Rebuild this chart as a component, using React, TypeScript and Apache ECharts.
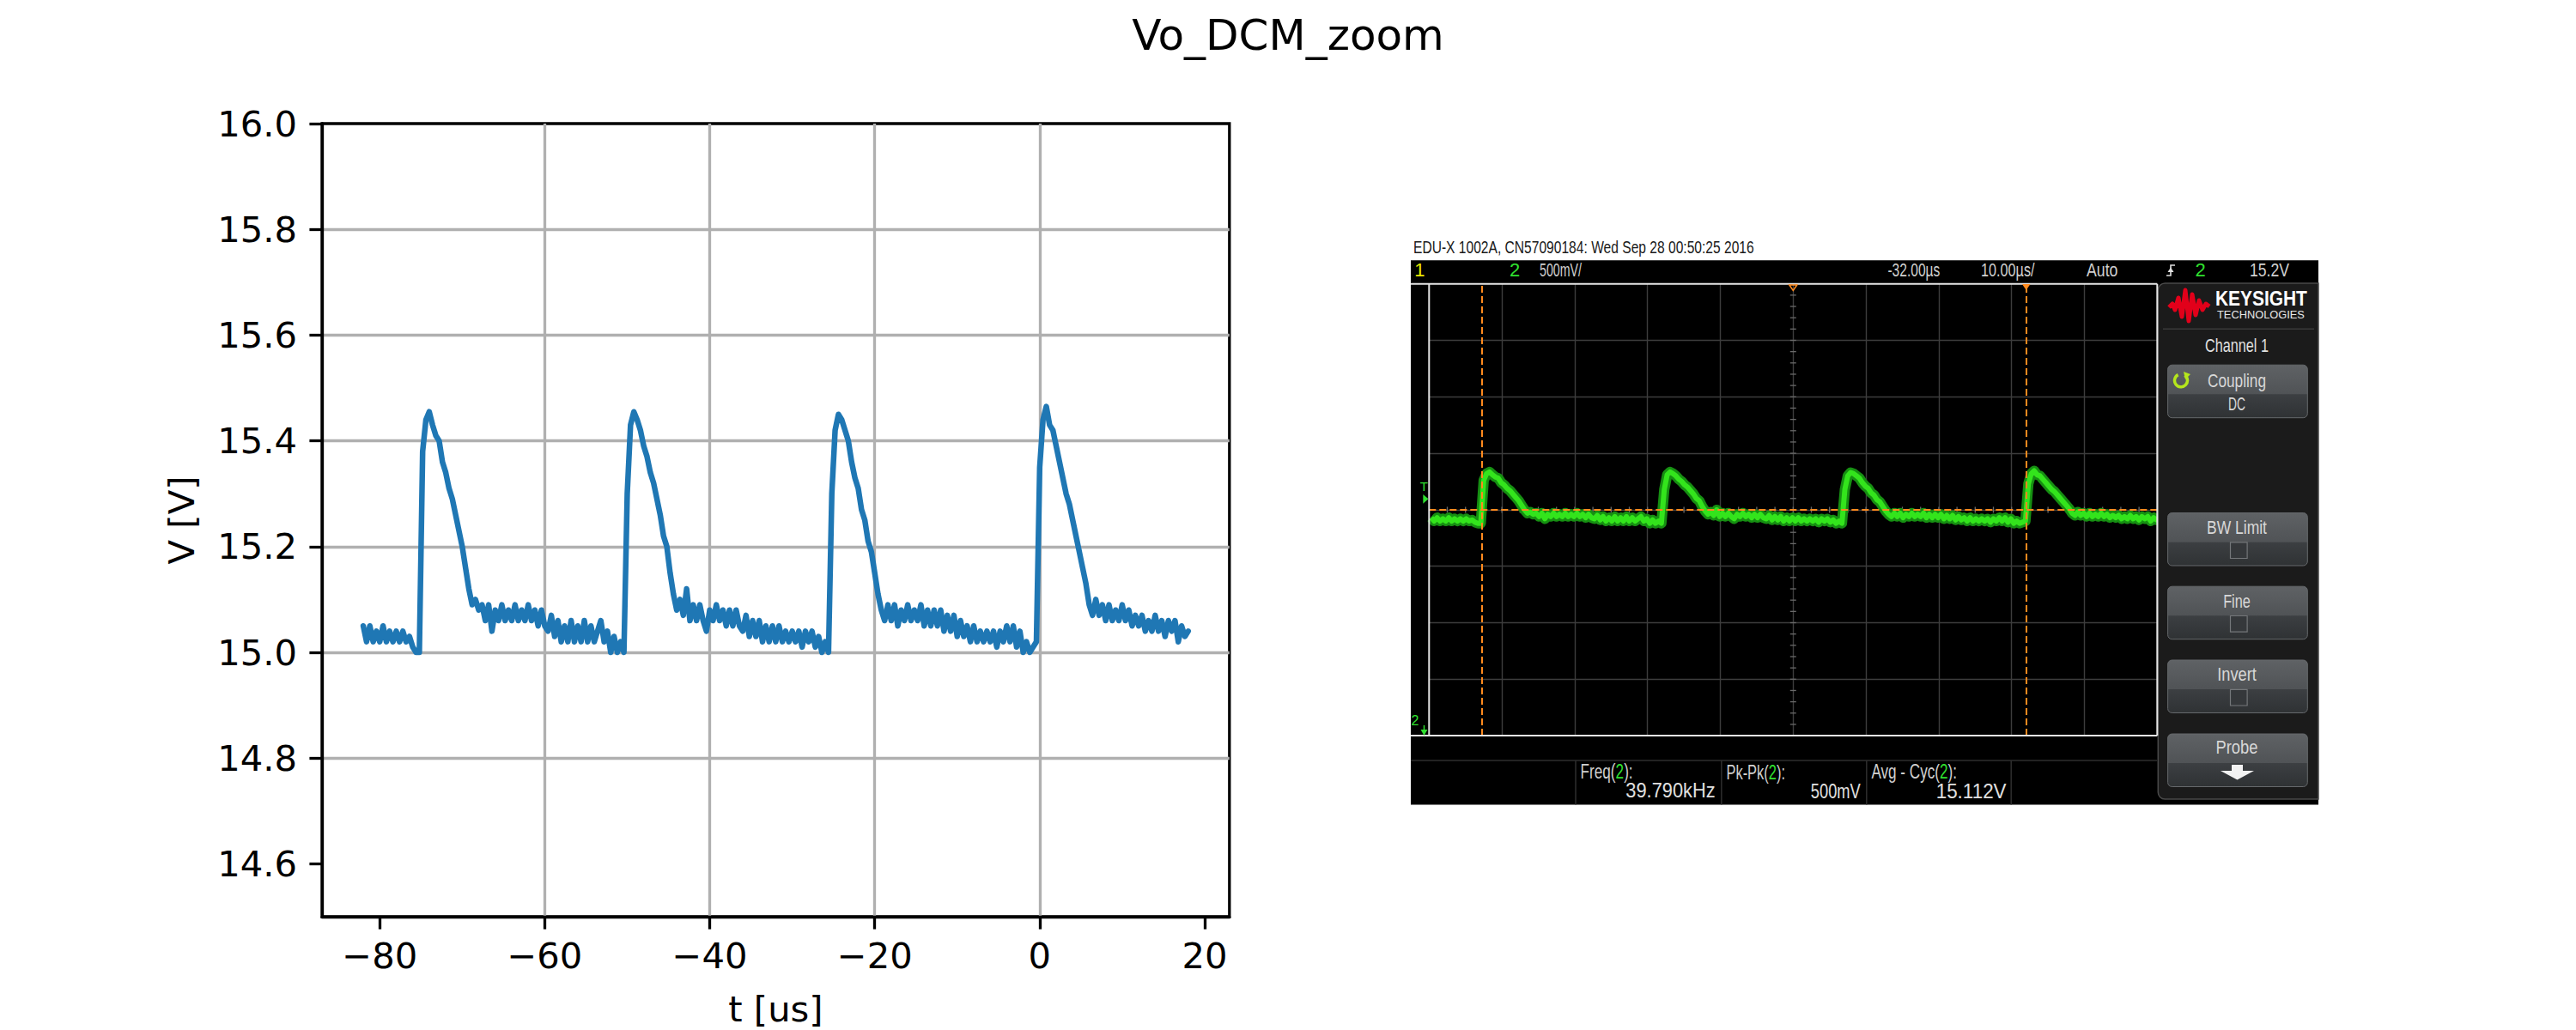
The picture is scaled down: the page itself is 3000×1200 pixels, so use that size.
import { useEffect, useRef } from 'react';
import * as echarts from 'echarts';

// scope capture of Vo, one sample every 0.4 us starting at -82 us
const sampleStart = -82;
const sampleStep = 0.4;
const vo = [
  // -82.0 .. -75.6
  15.05, 15.02, 15.05, 15.02, 15.04, 15.02, 15.05, 15.02, 15.04, 15.02, 15.04, 15.02, 15.04, 15.02, 15.03, 15.01, 15.00,
  // pulse 1
  15.00, 15.38, 15.44, 15.455, 15.43, 15.41, 15.40, 15.36, 15.34, 15.31, 15.29, 15.26, 15.23, 15.20, 15.16, 15.12, 15.09, 15.10, 15.08,
  15.09, 15.06, 15.09, 15.04, 15.08, 15.06, 15.09, 15.06, 15.08, 15.06, 15.09, 15.06, 15.08, 15.06, 15.09, 15.06, 15.08, 15.05, 15.08, 15.05,
  15.04, 15.07, 15.03, 15.06, 15.02, 15.05, 15.02, 15.06, 15.02, 15.05, 15.02, 15.06, 15.02, 15.05, 15.02, 15.04, 15.06, 15.02, 15.04, 15.00, 15.03, 15.00, 15.02,
  // pulse 2
  15.00, 15.30, 15.43, 15.455, 15.44, 15.42, 15.39, 15.37, 15.34, 15.32, 15.29, 15.26, 15.22, 15.20, 15.15, 15.11, 15.08, 15.10, 15.07,
  15.12, 15.06, 15.09, 15.06, 15.09, 15.06, 15.04, 15.08, 15.06, 15.09, 15.06, 15.08, 15.05, 15.08, 15.05, 15.08, 15.05, 15.04, 15.07, 15.03, 15.06, 15.03,
  15.06, 15.02, 15.05, 15.02, 15.05, 15.02, 15.05, 15.02, 15.04, 15.02, 15.04, 15.02, 15.04, 15.01, 15.04, 15.02, 15.04, 15.01, 15.03, 15.00, 15.02, 15.00,
  // pulse 3
  15.30, 15.42, 15.45, 15.44, 15.42, 15.40, 15.36, 15.33, 15.31, 15.27, 15.25, 15.21, 15.19, 15.15, 15.11, 15.08,
  15.06, 15.09, 15.06, 15.09, 15.05, 15.08, 15.06, 15.09, 15.06, 15.08, 15.06, 15.09, 15.05, 15.08, 15.05, 15.08, 15.05, 15.08, 15.04, 15.07, 15.04, 15.07, 15.03, 15.06,
  15.03, 15.05, 15.02, 15.05, 15.02, 15.04, 15.02, 15.04, 15.02, 15.04, 15.01, 15.04, 15.02, 15.05, 15.02, 15.05, 15.01, 15.04, 15.00, 15.02, 15.00, 15.01, 15.02,
  // pulse 4
  15.35, 15.44, 15.465, 15.43, 15.42, 15.39, 15.36, 15.33, 15.30, 15.28, 15.25, 15.22, 15.19, 15.16, 15.13, 15.09, 15.07,
  15.10, 15.07, 15.09, 15.06, 15.09, 15.06, 15.08, 15.06, 15.09, 15.06, 15.08, 15.05, 15.07, 15.05, 15.07, 15.04, 15.06, 15.04, 15.07, 15.04, 15.06, 15.03, 15.06, 15.04,
  15.06, 15.02, 15.05, 15.03, 15.04,
];

const xTicks = [-80, -60, -40, -20, 0, 20];
const yTicks = [14.6, 14.8, 15.0, 15.2, 15.4, 15.6, 15.8, 16.0];

// scope screen: 10 div x 10 us, 8 div x 0.5 V
const scopeTime = [-82.3, 17.7];
const scopeVolt = [13.12, 17.12];
const cursorTimes = [-75.1, -0.3];
const cursorLevel = 15.12;

const headerText = 'EDU-X 1002A, CN57090184: Wed Sep 28 00:50:25 2016';
const measLabels = ['Freq', 'Pk-Pk', 'Avg - Cyc'];
const measValues = ['39.790kHz', '500mV', '15.112V'];
const menuButtons = ['BW Limit', 'Fine', 'Invert'];

const MPL_FONT = 'DejaVu Sans';
const SCOPE_FONT = 'Liberation Sans';
const MPL = { left: 375, top: 144, width: 1056.8, height: 924 };
const SCR = { left: 1664.3, top: 330.7, width: 848, height: 526.4 };
const GREEN = '#2fe02f';
const ORANGE = '#ff8a1e';

type TextOpt = {
  x: number; y: number; size: number; color: string;
  align?: 'left' | 'center' | 'right'; width?: number; bold?: boolean;
  font?: string; rotation?: number; rich?: any; plain?: string;
};

function textMaker(ctx: CanvasRenderingContext2D | null) {
  return (text: string, o: TextOpt) => {
    const family = o.font ?? SCOPE_FONT;
    const weight = o.bold ? 'bold' : 'normal';
    let scaleX = 1;
    if (o.width && ctx) {
      ctx.font = `${weight} ${o.size}px "${family}"`;
      const w = ctx.measureText(o.plain ?? text).width;
      if (w > 0) scaleX = o.width / w;
    }
    return {
      type: 'text', x: o.x, y: o.y, scaleX, rotation: o.rotation ?? 0, z: 20, silent: true,
      style: {
        text, fill: o.color, fontSize: o.size, fontFamily: family, fontWeight: weight,
        textAlign: o.align ?? 'left', align: o.align ?? 'left',
        textVerticalAlign: 'middle', verticalAlign: 'middle', rich: o.rich,
      },
    };
  };
}

const line = (x1: number, y1: number, x2: number, y2: number, stroke: string, lineWidth: number, z = 15) => ({
  type: 'line', z, silent: true, shape: { x1, y1, x2, y2 }, style: { stroke, lineWidth },
});

function scopeGraphics(ctx: CanvasRenderingContext2D | null) {
  const txt = textMaker(ctx);
  const els: any[] = [];
  const cx = SCR.left + SCR.width / 2;
  const cy = SCR.top + SCR.height / 2;
  const right = SCR.left + SCR.width;
  const bottom = SCR.top + SCR.height;
  const bar = 22;
  const menu = 22;

  // black screen
  els.push({ type: 'rect', z: -5, silent: true, shape: { x: 1643, y: 303.3, width: 1057, height: 634.2 }, style: { fill: '#000' } });
  els.push(txt(headerText, { x: 1646, y: 288, size: 21, color: '#1a1a1a', width: 397 }));

  // top status bar
  els.push(txt('1', { x: 1653.3, y: 314.5, size: bar, color: '#e8e800', align: 'center' }));
  els.push(txt('2', { x: 1764, y: 314.5, size: bar, color: GREEN, align: 'center' }));
  els.push(txt('500mV/', { x: 1793, y: 314.5, size: bar, color: '#d0d0d0', width: 49 }));
  els.push(txt('-32.00µs', { x: 2198.4, y: 314.5, size: bar, color: '#d0d0d0', width: 61 }));
  els.push(txt('10.00µs/', { x: 2307, y: 314.5, size: bar, color: '#d0d0d0', width: 62.5 }));
  els.push(txt('Auto', { x: 2430, y: 314.5, size: bar, color: '#d0d0d0', width: 36.4 }));
  els.push({ type: 'polyline', z: 15, silent: true, shape: { points: [[2523, 321], [2528, 321], [2528, 309], [2533, 309]] }, style: { stroke: '#e0e0e0', lineWidth: 1.6, fill: null } });
  els.push({ type: 'polygon', z: 15, silent: true, shape: { points: [[2524.5, 317], [2531.5, 317], [2528, 311.5]] }, style: { fill: '#e0e0e0' } });
  els.push(txt('2', { x: 2562.7, y: 314.5, size: bar, color: GREEN, align: 'center' }));
  els.push(txt('15.2V', { x: 2620, y: 314.5, size: bar, color: '#d0d0d0', width: 46 }));

  // graticule border
  els.push(line(1643, SCR.top, right, SCR.top, '#e6e6e6', 2));
  els.push(line(1643, bottom, right, bottom, '#e6e6e6', 2));
  els.push(line(SCR.left, SCR.top, SCR.left, bottom, '#e6e6e6', 2));
  els.push(line(right, SCR.top, right, bottom, '#e6e6e6', 2));

  // minor ticks on centre axes
  for (let k = 1; k < 40; k++) {
    const y = SCR.top + (k * SCR.height) / 40;
    els.push(line(cx - 3.5, y, cx + 3.5, y, '#6a6a6a', 1.3, 1));
    const x = SCR.left + (k * SCR.width) / 40;
    els.push(line(x, cy - 3.5, x, cy + 3.5, '#6a6a6a', 1.3, 1));
  }

  // trigger / cursor markers
  els.push({ type: 'polygon', z: 16, silent: true, shape: { points: [[cx - 4.5, 332], [cx + 4.5, 332], [cx, 338.5]] }, style: { fill: null, stroke: ORANGE, lineWidth: 1.5 } });
  els.push({ type: 'polygon', z: 16, silent: true, shape: { points: [[2355, 331], [2364.5, 331], [2359.7, 338]] }, style: { fill: ORANGE } });
  els.push(txt('T', { x: 1658.3, y: 566.7, size: 15, color: GREEN, align: 'center' }));
  els.push({ type: 'polygon', z: 16, silent: true, shape: { points: [[1657.3, 576], [1663.5, 581.3], [1657.3, 586.7]] }, style: { fill: GREEN } });
  els.push(txt('2', { x: 1648, y: 839, size: 16, color: GREEN, align: 'center' }));
  els.push(line(1658.5, 845, 1658.5, 851, GREEN, 1.5, 16));
  els.push({ type: 'polygon', z: 16, silent: true, shape: { points: [[1654.5, 850], [1662.5, 850], [1658.5, 857]] }, style: { fill: GREEN } });

  // measurement strip
  els.push(line(1643, 886, right, 886, '#2e2e2e', 1.5));
  [1835, 2004.8, 2173.8, 2342.2].forEach((x) => els.push(line(x, 886, x, 937.5, '#2e2e2e', 1.5)));
  const labelLefts = [1840.6, 2010.4, 2179.4];
  const labelWidths = [61, 68.7, 99.6];
  const valueRights = [1997.7, 2166.8, 2336.6];
  const valueWidths = [104.5, 58, 82];
  measLabels.forEach((lab, i) => {
    const rich = {
      w: { fill: '#d0d0d0', fontSize: 23, fontFamily: SCOPE_FONT },
      g: { fill: GREEN, fontSize: 23, fontFamily: SCOPE_FONT },
    };
    els.push(txt(`{w|${lab}(}{g|2}{w|):}`, { x: labelLefts[i], y: 899.5, size: 23, color: '#d0d0d0', width: labelWidths[i], rich, plain: `${lab}(2):` }));
    els.push(txt(measValues[i], { x: valueRights[i], y: 921.8, size: 23, color: '#e0e0e0', align: 'right', width: valueWidths[i] }));
  });

  // softkey panel
  els.push({ type: 'rect', z: 10, silent: true, shape: { x: 2513.3, y: 330, width: 186.7, height: 601, r: [8, 0, 0, 8] }, style: { fill: '#1b1b1b', stroke: '#4a4a4a', lineWidth: 1.5 } });
  els.push({
    type: 'polyline', z: 16, silent: true,
    shape: { points: [[2526, 358], [2530, 354], [2533, 361], [2537, 347], [2541, 369], [2545, 338], [2549, 374], [2553, 343], [2557, 367], [2561, 350], [2565, 361], [2569, 354], [2573, 357]] },
    style: { stroke: '#e2001a', lineWidth: 5, fill: null, lineJoin: 'round' },
  });
  els.push(txt('KEYSIGHT', { x: 2580, y: 348.5, size: 23, color: '#ffffff', bold: true, width: 107 }));
  els.push(txt('TECHNOLOGIES', { x: 2582, y: 366.2, size: 13, color: '#e8e8e8', width: 102 }));
  els.push(line(2519, 383.3, 2695, 383.3, '#3a3a3a', 1.5));
  els.push(txt('Channel 1', { x: 2605, y: 402.5, size: menu, color: '#e0e0e0', align: 'center', width: 74 }));

  const button = (top: number) => ({
    type: 'rect', z: 12, silent: true,
    shape: { x: 2524.6, y: top, width: 162.7, height: 61.5, r: 5 },
    style: {
      stroke: '#66696c', lineWidth: 1,
      fill: new echarts.graphic.LinearGradient(0, 0, 0, 1, [
        { offset: 0, color: '#5f6265' }, { offset: 0.55, color: '#505356' },
        { offset: 0.56, color: '#3c3f42' }, { offset: 1, color: '#2f3234' },
      ]),
    },
  });
  els.push(button(425.2));
  els.push(txt('Coupling', { x: 2605, y: 443.5, size: menu, color: '#d8d8d8', align: 'center', width: 68 }));
  els.push(txt('DC', { x: 2605, y: 470.5, size: menu, color: '#d8d8d8', align: 'center', width: 20 }));
  els.push({ type: 'arc', z: 16, silent: true, shape: { cx: 2540, cy: 443.3, r: 7.5, startAngle: -Math.PI * 0.3, endAngle: Math.PI * 1.35, clockwise: true }, style: { stroke: '#b5e61d', lineWidth: 3.5, fill: null } });
  els.push({ type: 'polygon', z: 16, silent: true, shape: { points: [[2543, 433], [2551, 436], [2545, 442]] }, style: { fill: '#b5e61d' } });

  const tops = [597.5, 683.2, 769];
  const labelWidthsMenu = [70, 31.7, 45.6];
  menuButtons.forEach((lab, i) => {
    els.push(button(tops[i]));
    els.push(txt(lab, { x: 2605, y: tops[i] + 16.5, size: menu, color: '#d8d8d8', align: 'center', width: labelWidthsMenu[i] }));
    els.push({ type: 'rect', z: 16, silent: true, shape: { x: 2597.5, y: tops[i] + 34.3, width: 19.6, height: 18.7 }, style: { fill: '#35383b', stroke: '#74777a', lineWidth: 1.2 } });
  });
  els.push(button(855));
  els.push(txt('Probe', { x: 2605, y: 870.8, size: menu, color: '#d8d8d8', align: 'center', width: 49 }));
  els.push({ type: 'polygon', z: 16, silent: true, shape: { points: [[2599, 891], [2612, 891], [2612, 898], [2625, 898], [2605.5, 908.5], [2586, 898], [2599, 898]] }, style: { fill: '#f2f2f2' } });

  return els;
}

function buildOption(ctx: CanvasRenderingContext2D | null) {
  const points = vo.map((v, i) => [+(sampleStart + i * sampleStep).toFixed(1), v]);
  const txt = textMaker(ctx);
  const minus = (s: string) => s.replace('-', '\u2212');
  const hidden = { show: false };
  const scopeGridAxis = (max: number) => ({
    type: 'value', gridIndex: 1, min: 0, max, interval: 1,
    axisLine: hidden, axisTick: hidden, axisLabel: hidden,
    splitLine: { show: true, showMinLine: false, showMaxLine: false, lineStyle: { color: '#3d3d3d', width: 1.4 } },
  });

  return {
    animation: false,
    backgroundColor: '#ffffff',
    grid: [
      { left: MPL.left, top: MPL.top, width: MPL.width, height: MPL.height, show: true, borderColor: '#000', borderWidth: 3.3, backgroundColor: 'transparent' },
      { left: SCR.left, top: SCR.top, width: SCR.width, height: SCR.height, show: false },
    ],
    xAxis: [
      {
        type: 'value', gridIndex: 0, min: -87, max: 23, splitNumber: 5,
        axisLine: { show: true, onZero: false, lineStyle: { color: '#000', width: 3.3 } },
        axisTick: { show: true, inside: false, length: 14.6, customValues: xTicks, lineStyle: { color: '#000', width: 3.3 } },
        axisLabel: { customValues: xTicks, margin: 24.5, fontSize: 41.7, fontFamily: MPL_FONT, color: '#000', formatter: (v: number) => minus(String(v)) },
        splitLine: { show: true, showMinLine: false, showMaxLine: false, lineStyle: { color: '#b0b0b0', width: 3.3 } },
      },
      scopeGridAxis(10),
      { type: 'value', gridIndex: 1, min: scopeTime[0], max: scopeTime[1], show: false },
    ],
    yAxis: [
      {
        type: 'value', gridIndex: 0, min: 14.5, max: 16.0, splitNumber: 7,
        axisLine: { show: true, onZero: false, lineStyle: { color: '#000', width: 3.3 } },
        axisTick: { show: true, inside: false, length: 14.6, customValues: yTicks, lineStyle: { color: '#000', width: 3.3 } },
        axisLabel: { customValues: yTicks, margin: 29, fontSize: 41.7, fontFamily: MPL_FONT, color: '#000', formatter: (v: number) => v.toFixed(1) },
        splitLine: { show: true, showMinLine: false, showMaxLine: false, lineStyle: { color: '#b0b0b0', width: 3.3 } },
      },
      scopeGridAxis(8),
      { type: 'value', gridIndex: 1, min: scopeVolt[0], max: scopeVolt[1], show: false },
    ],
    series: [
      {
        name: 'Vo', type: 'line', xAxisIndex: 0, yAxisIndex: 0, data: points,
        symbol: 'none', showSymbol: false, silent: true, z: 3,
        lineStyle: { color: '#1f77b4', width: 6.5, join: 'round', cap: 'round' },
      },
      {
        name: 'scopeGlow', type: 'line', xAxisIndex: 2, yAxisIndex: 2, data: points,
        symbol: 'none', showSymbol: false, silent: true, z: 3,
        lineStyle: { color: '#168f12', width: 12, join: 'round' },
      },
      {
        name: 'scopeTrace', type: 'line', xAxisIndex: 2, yAxisIndex: 2, data: points,
        symbol: 'none', showSymbol: false, silent: true, z: 4,
        lineStyle: { color: '#33e41c', width: 6, join: 'round' },
        markLine: {
          silent: true, symbol: ['none', 'none'], label: { show: false },
          lineStyle: { color: ORANGE, width: 2, type: [8, 4] },
          data: [...cursorTimes.map((t) => ({ xAxis: t })), { yAxis: cursorLevel }],
        },
      },
    ],
    graphic: {
      elements: [
        txt('Vo_DCM_zoom', { x: 1500, y: 41.4, size: 50, color: '#000', font: MPL_FONT, align: 'center' }),
        txt('V [V]', { x: 211, y: 606, size: 41.7, color: '#000', font: MPL_FONT, align: 'center', rotation: Math.PI / 2 }),
        txt('t [us]', { x: MPL.left + MPL.width / 2, y: 1175, size: 41.7, color: '#000', font: MPL_FONT, align: 'center' }),
        ...scopeGraphics(ctx),
      ],
    },
  };
}

export default function App() {
  const ref = useRef<HTMLDivElement>(null);

  useEffect(() => {
    document.body.style.margin = '0';
    const el = ref.current;
    if (!el) return;
    const ctx = document.createElement('canvas').getContext('2d');
    const chart = echarts.init(el, undefined, { renderer: 'svg' });
    chart.setOption(buildOption(ctx) as any);
    return () => chart.dispose();
  }, []);

  return <div ref={ref} style={{ width: 3000, height: 1200 }} />;
}
